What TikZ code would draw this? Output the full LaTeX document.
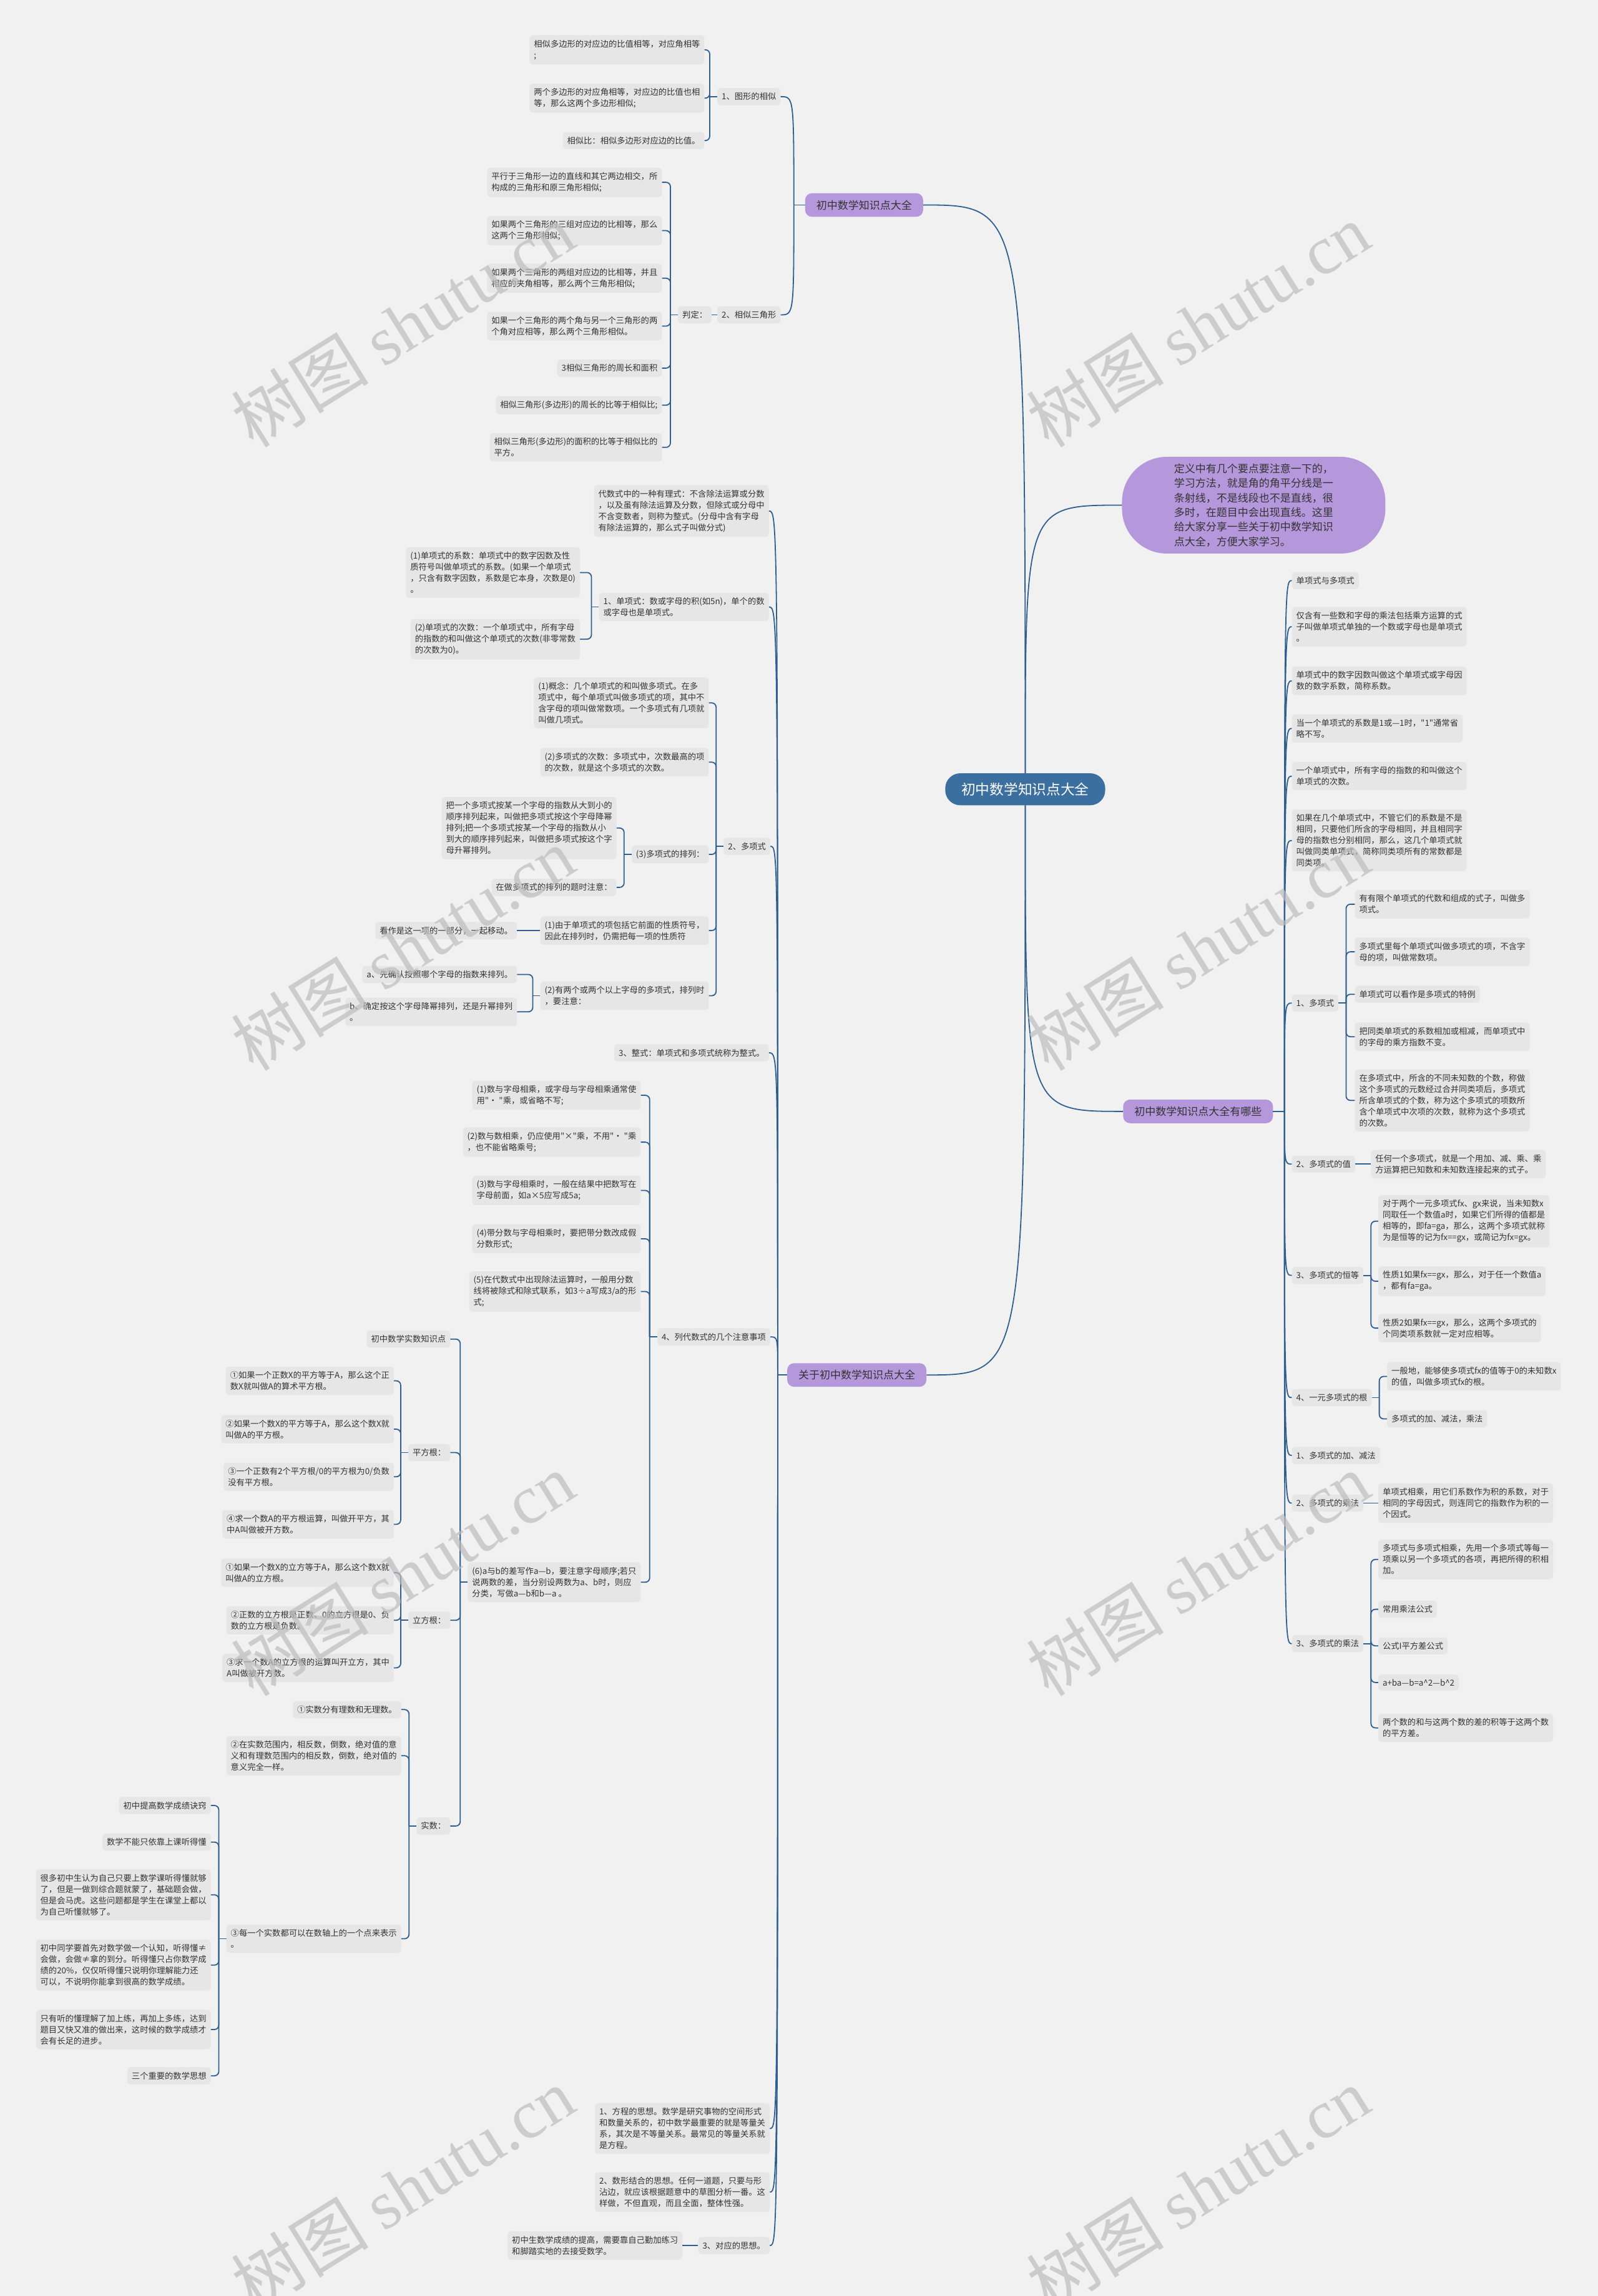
\documentclass[tikz,border=0pt]{standalone}
\usepackage{fontspec}
\newfontfamily\cjk{Noto Sans CJK SC}
\newfontfamily\wmserif{Liberation Serif}
\definecolor{bgc}{HTML}{F1F1F1}
\definecolor{leafc}{HTML}{E6E6E6}
\definecolor{linec}{HTML}{2E5F8E}
\definecolor{rootc}{HTML}{3B6F9F}
\definecolor{purpc}{HTML}{B598DB}
\definecolor{txt}{HTML}{333333}
\definecolor{wmc}{HTML}{BDBDBD}
\tikzset{
 box/.style={fill=leafc, rounded corners=5pt, inner xsep=7pt, inner ysep=7.5pt, text=txt, align=left, font=\cjk\fontsize{13.3}{18}\selectfont},
 bl/.style={box, anchor=east},
 bri/.style={box, anchor=west},
 purp/.style={fill=purpc, rounded corners=11pt, inner xsep=18pt, inner ysep=11pt, text=txt, font=\cjk\fontsize{17}{20}\selectfont},
 rootn/.style={fill=rootc, text=white, rounded corners=24pt, inner xsep=26pt, inner ysep=15pt, font=\cjk\fontsize{22.7}{26}\selectfont},
 ellnode/.style={fill=purpc, rounded corners=72pt, minimum width=422pt, minimum height=155pt, inner sep=0pt, align=left, text=txt, font=\cjk\fontsize{17}{23.3}\selectfont},
 link/.style={draw=linec, line width=1.8pt},
 br/.style={link, rounded corners=7pt},
 wmk/.style={text=wmc, opacity=0.7, rotate=32},
}
\newcommand\brackL[2]{\coordinate (#1-b) at ([xshift=-12pt]#1.west);
 \draw[br] (#1.west) -- (#1-b);
 \foreach \c in {#2} {\draw[br] (#1-b) |- (\c.east);}}
\newcommand\brackR[2]{\coordinate (#1-b) at ([xshift=12pt]#1.east);
 \draw[br] (#1.east) -- (#1-b);
 \foreach \c in {#2} {\draw[br] (#1-b) |- (\c.west);}}
\newcommand\trunkL[3]{\draw[link] (#1.west) -- (#2);
 \foreach \c in {#3} {\draw[link] (#2) .. controls (#2 |- \c.east) .. (\c.east);}}
\newcommand\trunkR[3]{\draw[link] (#1.east) -- (#2);
 \foreach \c in {#3} {\draw[link] (#2) .. controls (#2 |- \c.west) .. (\c.west);}}
\begin{document}
\begin{tikzpicture}[x=2.3465pt, y=-2.3465pt]
\fill[bgc] (0,0) rectangle (1091,1568);
\useasboundingbox (0,0) rectangle (1091,1568);

% ---------- top-left branch ----------
\node[purp] (P1) at (590,140) {初中数学知识点大全};
\coordinate (T1) at (542,140);
\node[bl] (A1) at (533,66) {1、图形的相似};
\node[bl] (A1x) at (481,34) {相似多边形的对应边的比值相等，对应角相等\\;};
\node[bl] (A1y) at (481,67) {两个多边形的对应角相等，对应边的比值也相\\等，那么这两个多边形相似;};
\node[bl] (A1z) at (481,96) {相似比：相似多边形对应边的比值。};
\node[bl] (A2) at (533,215) {2、相似三角形};
\node[bl] (A2j) at (486,215) {判定：};
\node[bl] (A2a) at (452,124.5) {平行于三角形一边的直线和其它两边相交，所\\构成的三角形和原三角形相似;};
\node[bl] (A2b) at (452,157.5) {如果两个三角形的三组对应边的比相等，那么\\这两个三角形相似;};
\node[bl] (A2c) at (452,190) {如果两个三角形的两组对应边的比相等，并且\\相应的夹角相等，那么两个三角形相似;};
\node[bl] (A2d) at (452,222.7) {如果一个三角形的两个角与另一个三角形的两\\个角对应相等，那么两个三角形相似。};
\node[bl] (A2e) at (452,251.4) {3相似三角形的周长和面积};
\node[bl] (A2f) at (452,276.7) {相似三角形(多边形)的周长的比等于相似比;};
\node[bl] (A2g) at (452,305.5) {相似三角形(多边形)的面积的比等于相似比的\\平方。};
\trunkL{P1}{T1}{A1,A2}
\brackL{A1}{A1x,A1y,A1z}
\draw[link] (A2.west) -- (A2j.east);
\brackL{A2j}{A2a,A2b,A2c,A2d,A2e,A2f,A2g}

% ---------- root and note ----------
\node[rootn] (root) at (700,539) {初中数学知识点大全};
\node[ellnode] (ell) at (856,345) {定义中有几个要点要注意一下的，\\学习方法，就是角的角平分线是一\\条射线，不是线段也不是直线，很\\多时，在题目中会出现直线。这里\\给大家分享一些关于初中数学知识\\点大全，方便大家学习。};

% ---------- right branch ----------
\node[purp] (P2) at (818,759) {初中数学知识点大全有哪些};
\coordinate (T2) at (877,759);
\node[bri] (R1) at (882,396.5) {单项式与多项式};
\node[bri] (R2) at (882,428) {仅含有一些数和字母的乘法包括乘方运算的式\\子叫做单项式单独的一个数或字母也是单项式\\。};
\node[bri] (R3) at (882,465) {单项式中的数字因数叫做这个单项式或字母因\\数的数字系数，简称系数。};
\node[bri] (R4) at (882,497.5) {当一个单项式的系数是1或—1时，"1"通常省\\略不写。};
\node[bri] (R5) at (882,530) {一个单项式中，所有字母的指数的和叫做这个\\单项式的次数。};
\node[bri] (R6) at (882,574) {如果在几个单项式中，不管它们的系数是不是\\相同，只要他们所含的字母相同，并且相同字\\母的指数也分别相同，那么，这几个单项式就\\叫做同类单项式，简称同类项所有的常数都是\\同类项。};
\node[bri] (R7) at (882,685) {1、多项式};
\node[bri] (R7a) at (925,617.5) {有有限个单项式的代数和组成的式子，叫做多\\项式。};
\node[bri] (R7b) at (925,650) {多项式里每个单项式叫做多项式的项，不含字\\母的项，叫做常数项。};
\node[bri] (R7c) at (925,679) {单项式可以看作是多项式的特例};
\node[bri] (R7d) at (925,708) {把同类单项式的系数相加或相减，而单项式中\\的字母的乘方指数不变。};
\node[bri] (R7e) at (925,751.5) {在多项式中，所含的不同未知数的个数，称做\\这个多项式的元数经过合并同类项后，多项式\\所含单项式的个数，称为这个多项式的项数所\\含个单项式中次项的次数，就称为这个多项式\\的次数。};
\node[bri] (R8) at (882,795) {2、多项式的值};
\node[bri] (R8a) at (936,795) {任何一个多项式，就是一个用加、减、乘、乘\\方运算把已知数和未知数连接起来的式子。};
\node[bri] (R9) at (882,871) {3、多项式的恒等};
\node[bri] (R9a) at (941,834) {对于两个一元多项式fx、gx来说，当未知数x\\同取任一个数值a时，如果它们所得的值都是\\相等的，即fa=ga，那么，这两个多项式就称\\为是恒等的记为fx==gx，或简记为fx=gx。};
\node[bri] (R9b) at (941,875) {性质1如果fx==gx，那么，对于任一个数值a\\，都有fa=ga。};
\node[bri] (R9c) at (941,907) {性质2如果fx==gx，那么，这两个多项式的\\个同类项系数就一定对应相等。};
\node[bri] (R10) at (882,954.5) {4、一元多项式的根};
\node[bri] (R10a) at (947,940) {一般地，能够使多项式fx的值等于0的未知数x\\的值，叫做多项式fx的根。};
\node[bri] (R10b) at (947,969) {多项式的加、减法，乘法};
\node[bri] (R11) at (882,994) {1、多项式的加、减法};
\node[bri] (R12) at (882,1026.5) {2、多项式的乘法};
\node[bri] (R12a) at (941,1026.5) {单项式相乘，用它们系数作为积的系数，对于\\相同的字母因式，则连同它的指数作为积的一\\个因式。};
\node[bri] (R13) at (882,1122.5) {3、多项式的乘法};
\node[bri] (R13a) at (941,1065) {多项式与多项式相乘，先用一个多项式等每一\\项乘以另一个多项式的各项，再把所得的积相\\加。};
\node[bri] (R13b) at (941,1099) {常用乘法公式};
\node[bri] (R13c) at (941,1124) {公式I平方差公式};
\node[bri] (R13d) at (941,1149) {a+ba—b=a\textasciicircum 2—b\textasciicircum 2};
\node[bri] (R13e) at (941,1180) {两个数的和与这两个数的差的积等于这两个数\\的平方差。};
\trunkR{P2}{T2}{R1,R2,R3,R4,R5,R6,R7,R8,R9,R10,R11,R12,R13}
\brackR{R7}{R7a,R7b,R7c,R7d,R7e}
\draw[link] (R8.east) -- (R8a.west);
\brackR{R9}{R9a,R9b,R9c}
\brackR{R10}{R10a,R10b}
\draw[link] (R12.east) -- (R12a.west);
\brackR{R13}{R13a,R13b,R13c,R13d,R13e}

% ---------- bottom-left branch ----------
\node[purp] (P3) at (585,939) {关于初中数学知识点大全};
\coordinate (T3) at (531,939);
\node[bl] (L1) at (525,349) {代数式中的一种有理式：不含除法运算或分数\\，以及虽有除法运算及分数，但除式或分母中\\不含变数者，则称为整式。(分母中含有字母\\有除法运算的，那么式子叫做分式)};
\node[bl] (L2) at (525,414.5) {1、单项式：数或字母的积(如5n)，单个的数\\或字母也是单项式。};
\node[bl] (L2a) at (396,391) {(1)单项式的系数：单项式中的数字因数及性\\质符号叫做单项式的系数。(如果一个单项式\\，只含有数字因数，系数是它本身，次数是0)\\。};
\node[bl] (L2b) at (396,436.5) {(2)单项式的次数：一个单项式中，所有字母\\的指数的和叫做这个单项式的次数(非零常数\\的次数为0)。};
\node[bl] (L3) at (526,578) {2、多项式};
\node[bl] (L3a) at (484,480) {(1)概念：几个单项式的和叫做多项式。在多\\项式中，每个单项式叫做多项式的项，其中不\\含字母的项叫做常数项。一个多项式有几项就\\叫做几项式。};
\node[bl] (L3b) at (484,520.5) {(2)多项式的次数：多项式中，次数最高的项\\的次数，就是这个多项式的次数。};
\node[bl] (L3c) at (484,583.5) {(3)多项式的排列：};
\node[bl] (L3c1) at (421,565.5) {把一个多项式按某一个字母的指数从大到小的\\顺序排列起来，叫做把多项式按这个字母降幂\\排列;把一个多项式按某一个字母的指数从小\\到大的顺序排列起来，叫做把多项式按这个字\\母升幂排列。};
\node[bl] (L3c2) at (421,606) {在做多项式的排列的题时注意：};
\node[bl] (L3d) at (484,635.5) {(1)由于单项式的项包括它前面的性质符号，\\因此在排列时，仍需把每一项的性质符};
\node[bl] (L3d1) at (353,635.5) {看作是这一项的一部分，一起移动。};
\node[bl] (L3e) at (484,680) {(2)有两个或两个以上字母的多项式，排列时\\，要注意：};
\node[bl] (L3e1) at (353,665.5) {a、先确认按照哪个字母的指数来排列。};
\node[bl] (L3e2) at (353,691) {b、确定按这个字母降幂排列，还是升幂排列\\。};
\node[bl] (L4) at (525,719) {3、整式：单项式和多项式统称为整式。};
\node[bl] (L5) at (526,913) {4、列代数式的几个注意事项};
\node[bl] (L5a) at (437.5,748) {(1)数与字母相乘，或字母与字母相乘通常使\\用"· "乘，或省略不写;};
\node[bl] (L5b) at (437.5,780) {(2)数与数相乘，仍应使用"×"乘，不用"· "乘\\，也不能省略乘号;};
\node[bl] (L5c) at (437.5,813) {(3)数与字母相乘时，一般在结果中把数写在\\字母前面，如a×5应写成5a;};
\node[bl] (L5d) at (437.5,846) {(4)带分数与字母相乘时，要把带分数改成假\\分数形式;};
\node[bl] (L5e) at (437.5,882) {(5)在代数式中出现除法运算时，一般用分数\\线将被除式和除式联系，如3÷a写成3/a的形\\式;};
\node[bl] (L5f) at (437.5,1080.5) {(6)a与b的差写作a—b，要注意字母顺序;若只\\说两数的差，当分别设两数为a、b时，则应\\分类，写做a—b和b—a 。};
\node[bl] (S0) at (307.5,914.5) {初中数学实数知识点};
\node[bl] (S1) at (307.5,992) {平方根：};
\node[bl] (S1a) at (269,943) {①如果一个正数X的平方等于A，那么这个正\\数X就叫做A的算术平方根。};
\node[bl] (S1b) at (269,976) {②如果一个数X的平方等于A，那么这个数X就\\叫做A的平方根。};
\node[bl] (S1c) at (269,1008.5) {③一个正数有2个平方根/0的平方根为0/负数\\没有平方根。};
\node[bl] (S1d) at (269,1041) {④求一个数A的平方根运算，叫做开平方，其\\中A叫做被开方数。};
\node[bl] (S2) at (307.5,1106.5) {立方根：};
\node[bl] (S2a) at (269,1074) {①如果一个数X的立方等于A，那么这个数X就\\叫做A的立方根。};
\node[bl] (S2b) at (269,1106.5) {②正数的立方根是正数、0的立方根是0、负\\数的立方根是负数。};
\node[bl] (S2c) at (269,1139) {③求一个数A的立方根的运算叫开立方，其中\\A叫做被开方数。};
\node[bl] (S3) at (307.5,1247) {实数：};
\node[bl] (S3a) at (274,1167.5) {①实数分有理数和无理数。};
\node[bl] (S3b) at (274,1199) {②在实数范围内，相反数，倒数，绝对值的意\\义和有理数范围内的相反数，倒数，绝对值的\\意义完全一样。};
\node[bl] (S3c) at (274,1324) {③每一个实数都可以在数轴上的一个点来表示\\。};
\node[bl] (S3c1) at (144,1233) {初中提高数学成绩诀窍};
\node[bl] (S3c2) at (144,1258) {数学不能只依靠上课听得懂};
\node[bl] (S3c3) at (144,1294) {很多初中生认为自己只要上数学课听得懂就够\\了，但是一做到综合题就蒙了，基础题会做，\\但是会马虎。这些问题都是学生在课堂上都以\\为自己听懂就够了。};
\node[bl] (S3c4) at (144,1342) {初中同学要首先对数学做一个认知，听得懂≠\\会做，会做≠拿的到分。听得懂只占你数学成\\绩的20\%，仅仅听得懂只说明你理解能力还\\可以，不说明你能拿到很高的数学成绩。};
\node[bl] (S3c5) at (144,1386) {只有听的懂理解了加上练，再加上多练，达到\\题目又快又准的做出来，这时候的数学成绩才\\会有长足的进步。};
\node[bl] (S3c6) at (144,1417.6) {三个重要的数学思想};
\node[bl] (L6) at (525.6,1453.6) {1、方程的思想。数学是研究事物的空间形式\\和数量关系的，初中数学最重要的就是等量关\\系，其次是不等量关系。最常见的等量关系就\\是方程。};
\node[bl] (L7) at (525.6,1497) {2、数形结合的思想。任何一道题，只要与形\\沾边，就应该根据题意中的草图分析一番。这\\样做，不但直观，而且全面，整体性强。};
\node[bl] (L8) at (525.6,1533.5) {3、对应的思想。};
\node[bl] (L8a) at (466,1533.5) {初中生数学成绩的提高，需要靠自己勤加练习\\和脚踏实地的去接受数学。};
\trunkL{P3}{T3}{L1,L2,L3,L4,L5,L6,L7,L8}
\brackL{L2}{L2a,L2b}
\brackL{L3}{L3a,L3b,L3c,L3d,L3e}
\brackL{L3c}{L3c1,L3c2}
\draw[link] (L3d.west) -- (L3d1.east);
\brackL{L3e}{L3e1,L3e2}
\brackL{L5}{L5a,L5b,L5c,L5d,L5e,L5f}
\brackL{L5f}{S0,S1,S2,S3}
\brackL{S1}{S1a,S1b,S1c,S1d}
\brackL{S2}{S2a,S2b,S2c}
\brackL{S3}{S3a,S3b,S3c}
\brackL{S3c}{S3c1,S3c2,S3c3,S3c4,S3c5,S3c6}
\draw[link] (L8.west) -- (L8a.east);

% ---------- root connectors ----------
\draw[link] (root.north) .. controls (root.north |- P1.east) .. (P1.east);
\draw[link] (root.north) .. controls (root.north |- ell.west) .. (ell.west);
\draw[link] (root.south) .. controls (root.south |- P2.west) .. (P2.west);
\draw[link] (root.south) .. controls (root.south |- P3.east) .. (P3.east);

% ---------- watermarks ----------
\foreach \wx/\wy [count=\i] in {275/222, 818/222, 275/648, 818/648, 275/1075, 818/1075, 275/1495, 818/1495}
  \node[wmk] (wm\i) at (\wx,\wy) {\cjk\fontsize{110}{110}\selectfont 树图\ \wmserif shutu.cn};
\end{tikzpicture}
\end{document}
